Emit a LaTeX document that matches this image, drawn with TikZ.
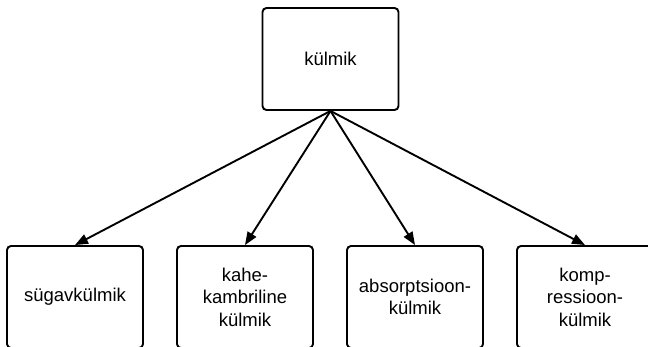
\documentclass[tikz,border=0pt]{standalone}
\usepackage{fontspec}
\setmainfont{Liberation Sans}
\usetikzlibrary{arrows.meta}

\begin{document}
\begin{tikzpicture}[x=1pt, y=-1pt,
		kast/.style={draw, line width=1.9pt, rounded corners=4pt, minimum width=136pt, minimum height=102pt, align=center, inner sep=0pt, font=\fontsize{18.5}{22.5}\selectfont},
		nool/.style={line width=1.9pt, -{Triangle[length=13pt, width=10pt]}}]
			%%%%% START %%%%%
			\clip (0, 0) rectangle (648, 346);
			
			\node[kast] (kylmik) at (330.5, 59) {külmik};
			
			\node[kast] (sygav) at (75, 297) {sügavkülmik};
			\node[kast] (kahe) at (245, 297) {kahe-\\kambriline\\külmik};
			\node[kast] (absorp) at (415, 297) {absorptsioon-\\külmik};
			\node[kast] (kompr) at (585, 297) {komp-\\ressioon-\\külmik};
			
			\draw[nool] (kylmik.south) -- (sygav.north);
			\draw[nool] (kylmik.south) -- (kahe.north);
			\draw[nool] (kylmik.south) -- (absorp.north);
			\draw[nool] (kylmik.south) -- (kompr.north);
			
			%%%%% END %%%%%
		\end{tikzpicture}
\end{document}
